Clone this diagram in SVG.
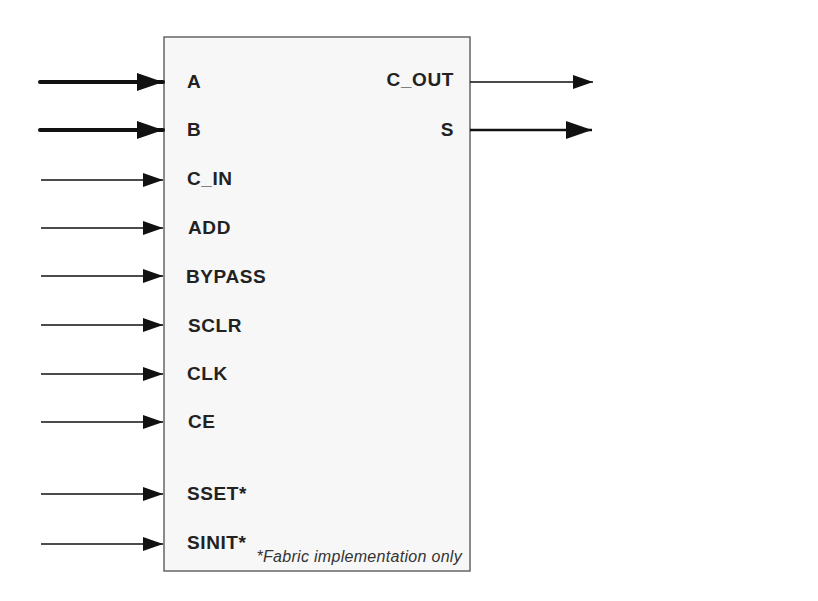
<svg xmlns="http://www.w3.org/2000/svg" width="818" height="601" viewBox="0 0 818 601">
<style>
.lbl{font-family:"Liberation Sans",Arial,sans-serif;font-weight:bold;font-size:19px;letter-spacing:0.6px;fill:#222}
.note{font-family:"Liberation Sans",Arial,sans-serif;font-style:italic;font-size:16px;letter-spacing:0.3px;fill:#333}
.thin{stroke:#111;stroke-width:1.6;fill:none}
.thick{stroke:#111;stroke-width:4;fill:none;stroke-linecap:round}
.mid{stroke:#111;stroke-width:2.6;fill:none}
</style>
<defs>
<marker id="ah" markerUnits="userSpaceOnUse" markerWidth="20" markerHeight="14" refX="20" refY="7" orient="auto"><path d="M0,0 L20,7 L0,14 z" fill="#111"/></marker>
<marker id="ahl" markerUnits="userSpaceOnUse" markerWidth="26" markerHeight="18" refX="26" refY="9" orient="auto"><path d="M0,0 L26,9 L0,18 z" fill="#111"/></marker>
</defs>
<rect width="818" height="601" fill="#fff"/>
<g id="block">
<rect x="164" y="37" width="306" height="534" fill="#f7f7f7" stroke="#666" stroke-width="1.5"/>
<text class="lbl" x="187" y="88">A</text>
<text class="lbl" x="187" y="136">B</text>
<text class="lbl" x="187" y="185">C_IN</text>
<text class="lbl" x="188" y="234">ADD</text>
<text class="lbl" x="186" y="283">BYPASS</text>
<text class="lbl" x="188" y="332">SCLR</text>
<text class="lbl" x="187" y="380">CLK</text>
<text class="lbl" x="188" y="428">CE</text>
<text class="lbl" x="187" y="500">SSET*</text>
<text class="lbl" x="187" y="549">SINIT*</text>
<text class="lbl" x="454" y="86" text-anchor="end">C_OUT</text>
<text class="lbl" x="454" y="136" text-anchor="end">S</text>
<text class="note" x="462" y="562" text-anchor="end">*Fabric implementation only</text>
</g>
<g id="connectors">
<line class="thick" x1="40" y1="82" x2="163" y2="82" marker-end="url(#ahl)"/>
<line class="thick" x1="40" y1="130" x2="163" y2="130" marker-end="url(#ahl)"/>
<line class="thin" x1="41" y1="180" x2="163" y2="180" marker-end="url(#ah)"/>
<line class="thin" x1="41" y1="228" x2="163" y2="228" marker-end="url(#ah)"/>
<line class="thin" x1="41" y1="276" x2="163" y2="276" marker-end="url(#ah)"/>
<line class="thin" x1="41" y1="325" x2="163" y2="325" marker-end="url(#ah)"/>
<line class="thin" x1="41" y1="374" x2="163" y2="374" marker-end="url(#ah)"/>
<line class="thin" x1="41" y1="422" x2="163" y2="422" marker-end="url(#ah)"/>
<line class="thin" x1="41" y1="494" x2="163" y2="494" marker-end="url(#ah)"/>
<line class="thin" x1="41" y1="544" x2="163" y2="544" marker-end="url(#ah)"/>
<line class="thin" x1="470" y1="82" x2="593" y2="82" marker-end="url(#ah)"/>
<line class="mid" x1="470" y1="130" x2="592" y2="130" marker-end="url(#ahl)"/>
</g>
</svg>
